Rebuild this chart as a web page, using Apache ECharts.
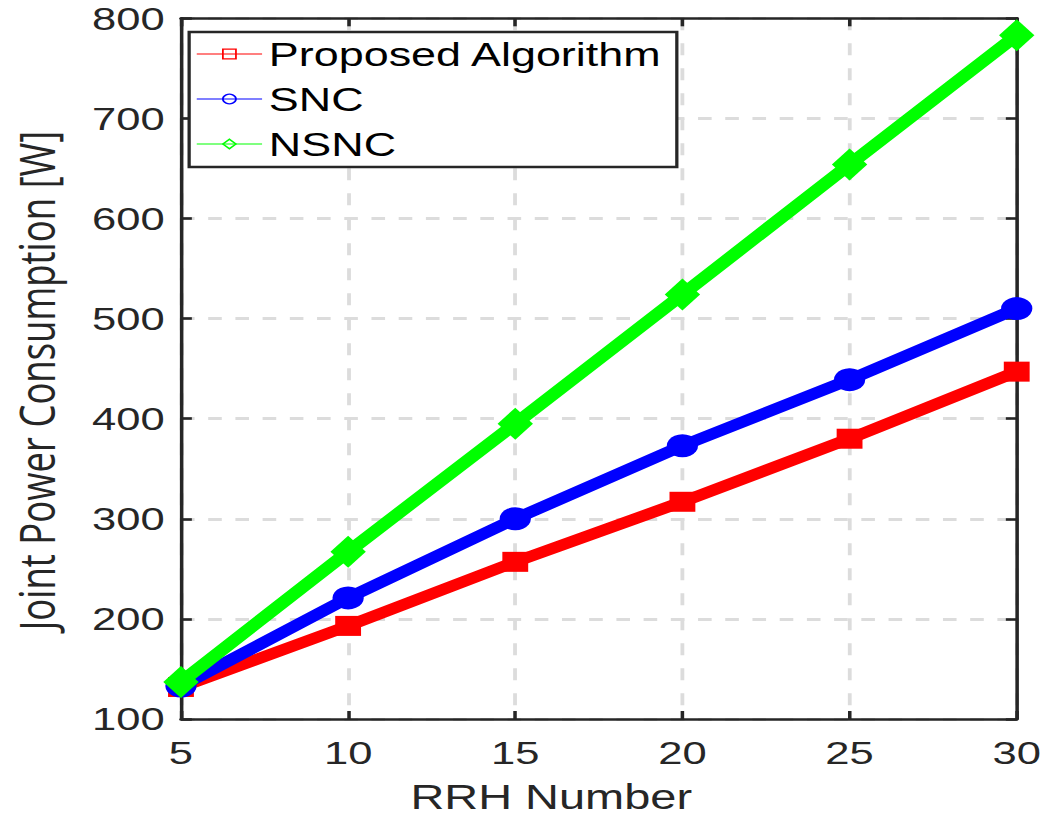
<!DOCTYPE html>
<html>
<head>
<meta charset="utf-8">
<title>Joint Power Consumption vs RRH Number</title>
<script src="https://cdn.jsdelivr.net/npm/echarts/dist/echarts.min.js"></script>
<style>
  html, body { margin: 0; padding: 0; background: #ffffff; overflow: hidden; }
  /* The figure is laid out on a narrower canvas and widened horizontally. */
  #chart { width: 768px; height: 820px; transform: scaleX(1.3607); transform-origin: 0 0; }
</style>
</head>
<body>
<div id="chart"></div>
<script>
// RRH counts on the horizontal axis
const rrhNumbers = [5, 10, 15, 20, 25, 30];

// Joint power consumption [W] for each scheme
const proposedValues = [132, 193, 257, 317, 380, 447];
const sncValues = [133, 221, 300, 373, 439, 510];
const nsncValues = [137, 267, 395, 524, 654, 783];

const seriesNames = ['Proposed Algorithm', 'SNC', 'NSNC'];
const seriesColors = ['#ff0000', '#0000ff', '#00ff00'];
const yTicks = [100, 200, 300, 400, 500, 600, 700, 800];

const frameColor = '#262626';
const tickFont = 'Liberation Sans, Arial, Helvetica, sans-serif';

function pairs(values) {
  return rrhNumbers.map((x, i) => [x, values[i]]);
}

const chart = echarts.init(document.getElementById('chart'), null, { renderer: 'svg' });

const axisLineStyle = { show: true, lineStyle: { color: frameColor, width: 2.6 } };
const axisTickStyle = { show: true, inside: true, length: 8, lineStyle: { color: frameColor, width: 2.6 } };

// Legend entries: thin line with a hollow marker
const legendEntries = seriesNames.map((name, i) => ({
  name: name,
  itemStyle: { color: 'rgba(255,255,255,0)', borderColor: seriesColors[i], borderWidth: 1.3 },
  lineStyle: { color: seriesColors[i], width: 1.2 }
}));

chart.setOption({
  animation: false,
  backgroundColor: '#ffffff',
  grid: { left: 132.3, right: 19.8, top: 18.3, bottom: 99.5, containLabel: false },
  legend: {
    data: legendEntries,
    orient: 'vertical',
    left: 139,
    top: 32,
    padding: [4, 10, 5, 5],
    itemGap: 9,
    itemWidth: 48,
    itemHeight: 12,
    backgroundColor: '#ffffff',
    borderColor: frameColor,
    borderWidth: 2.4,
    borderRadius: 0,
    textStyle: { fontFamily: tickFont, fontSize: 33, color: '#000000', lineHeight: 36 }
  },
  xAxis: [
    {
      type: 'value', position: 'bottom', min: 5, max: 30, interval: 5,
      name: 'RRH Number', nameLocation: 'middle', nameGap: 61,
      nameTextStyle: { fontFamily: tickFont, fontSize: 34.5, color: frameColor, padding: [0, 70, 0, 0] },
      axisLine: axisLineStyle, axisTick: axisTickStyle,
      axisLabel: { margin: 18, fontFamily: tickFont, fontSize: 32, color: frameColor },
      splitLine: { show: true, lineStyle: { color: '#dcdcdc', width: 2.8, type: [12, 13] } }
    },
    {
      type: 'value', position: 'top', min: 5, max: 30, interval: 5,
      axisLine: axisLineStyle, axisTick: axisTickStyle,
      axisLabel: { show: false }, splitLine: { show: false }
    }
  ],
  yAxis: [
    {
      type: 'value', position: 'left', min: yTicks[0], max: yTicks[yTicks.length - 1], interval: 100,
      name: 'Joint Power Consumption [W]', nameLocation: 'middle', nameGap: 88, nameRotate: 90,
      nameTextStyle: { fontFamily: 'Open Sans, sans-serif', fontSize: 36.5, color: frameColor, padding: [0, 24, 0, 0] },
      axisLine: axisLineStyle, axisTick: axisTickStyle,
      axisLabel: { margin: 12, fontFamily: tickFont, fontSize: 32, color: frameColor },
      splitLine: { show: true, lineStyle: { color: '#dcdcdc', width: 3.2, type: [10, 10] } }
    },
    {
      type: 'value', position: 'right', min: yTicks[0], max: yTicks[yTicks.length - 1], interval: 100,
      axisLine: axisLineStyle, axisTick: axisTickStyle,
      axisLabel: { show: false }, splitLine: { show: false }
    }
  ],
  series: [
    {
      name: seriesNames[0], type: 'line', data: pairs(proposedValues),
      color: seriesColors[0], symbol: 'rect', symbolSize: [19, 20],
      lineStyle: { width: 11, color: seriesColors[0] }, itemStyle: { color: seriesColors[0] }, z: 3
    },
    {
      name: seriesNames[1], type: 'line', data: pairs(sncValues),
      color: seriesColors[1], symbol: 'circle', symbolSize: 23,
      lineStyle: { width: 11, color: seriesColors[1] }, itemStyle: { color: seriesColors[1] }, z: 4
    },
    {
      name: seriesNames[2], type: 'line', data: pairs(nsncValues),
      color: seriesColors[2], symbol: 'diamond', symbolSize: [26, 32],
      lineStyle: { width: 11, color: seriesColors[2] }, itemStyle: { color: seriesColors[2] }, z: 5
    }
  ]
});
</script>
</body>
</html>
